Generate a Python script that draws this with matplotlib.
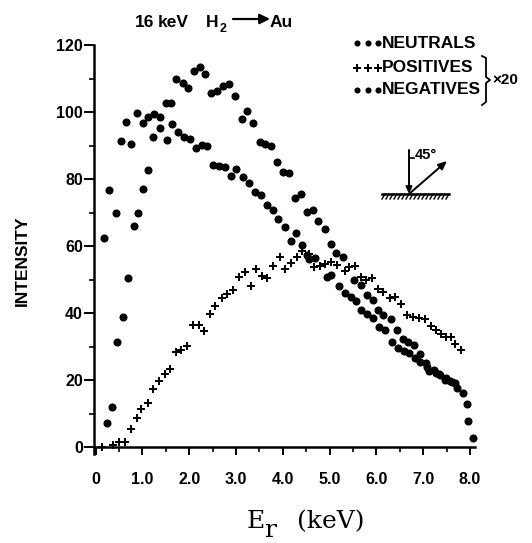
import matplotlib
matplotlib.use("Agg")
import matplotlib.pyplot as plt
from matplotlib.lines import Line2D
from matplotlib.ticker import MultipleLocator, FixedLocator, FixedFormatter

# ---- data: reflected H intensity vs. exit energy (16 keV H2 -> Au) ----
neutral_E = [0.18, 0.29, 0.43, 0.54, 0.65, 0.76, 0.89, 1.02, 1.13, 1.25, 1.38, 1.52,
             1.63, 1.76, 1.89, 2.02, 2.15, 2.27, 2.39, 2.51, 2.64, 2.76, 2.89, 3.01,
             3.14, 3.28, 3.41, 3.53, 3.66, 3.78, 3.90, 4.05, 4.17, 4.28, 4.42, 4.51,
             4.57, 4.69, 4.94, 5.04, 5.19, 5.33, 5.45, 5.56, 5.66, 5.79, 5.92, 6.06,
             6.18, 6.33, 6.47, 6.59, 6.70, 6.82, 6.93, 7.07, 7.13, 7.27, 7.34, 7.47,
             7.57, 7.68, 7.84, 7.95]
neutral_I = [62.5, 76.7, 69.8, 91.4, 96.9, 90.4, 99.8, 96.8, 98.4, 99.4, 98.4, 91.6,
             96.3, 94.1, 92.6, 92.0, 89.2, 90.1, 89.9, 84.2, 83.9, 83.7, 80.9, 82.9,
             80.7, 78.9, 76.2, 75.2, 72.2, 70.7, 68.0, 65.8, 61.6, 64.0, 60.3, 57.3,
             56.0, 56.3, 50.8, 51.3, 48.1, 46.1, 44.7, 43.7, 40.9, 39.7, 38.4, 35.7,
             34.9, 31.4, 29.5, 28.7, 28.0, 26.5, 25.5, 25.2, 22.8, 22.2, 21.8, 20.0,
             19.8, 19.0, 16.2, 7.8]

negative_E = [0.25, 0.35, 0.45, 0.59, 0.70, 0.81, 0.91, 1.02, 1.13, 1.23, 1.38, 1.50,
              1.61, 1.72, 1.86, 1.97, 2.10, 2.22, 2.34, 2.47, 2.60, 2.73, 2.85, 2.98,
              3.12, 3.24, 3.37, 3.51, 3.62, 3.75, 3.87, 4.01, 4.14, 4.27, 4.38, 4.52,
              4.64, 4.76, 4.90, 5.02, 5.14, 5.28, 5.52, 5.68, 5.79, 5.92, 6.04, 6.15,
              6.31, 6.43, 6.56, 6.68, 6.80, 6.93, 7.09, 7.23, 7.36, 7.49, 7.62, 7.72,
              7.94, 8.06]
negative_I = [7.1, 12.0, 31.4, 38.7, 50.4, 66.0, 69.8, 77.0, 82.7, 92.6, 95.1, 102.8,
              102.6, 109.9, 108.7, 107.3, 112.3, 113.5, 111.3, 105.8, 106.2, 107.9, 108.3, 104.8,
              97.8, 100.4, 96.8, 91.0, 90.4, 89.9, 85.2, 82.1, 81.9, 74.2, 75.5, 70.2,
              70.7, 67.6, 65.0, 60.6, 57.8, 56.6, 49.9, 48.4, 45.4, 43.9, 40.9, 39.4,
              38.1, 34.9, 32.1, 31.4, 30.4, 27.8, 24.0, 23.0, 21.5, 20.5, 19.5, 17.5,
              12.8, 2.6]

positive_E = [0.14, 0.38, 0.51, 0.63, 0.75, 0.88, 0.98, 1.11, 1.23, 1.35, 1.48, 1.60,
              1.72, 1.83, 1.96, 2.09, 2.20, 2.32, 2.44, 2.56, 2.69, 2.81, 2.93, 3.07,
              3.19, 3.31, 3.42, 3.55, 3.67, 3.80, 3.93, 4.05, 4.18, 4.30, 4.42, 4.55,
              4.67, 4.79, 4.90, 5.02, 5.15, 5.33, 5.42, 5.54, 5.66, 5.78, 5.90, 6.04,
              6.15, 6.28, 6.40, 6.52, 6.66, 6.78, 6.90, 7.04, 7.16, 7.27, 7.37, 7.49,
              7.59, 7.68, 7.80]
positive_I = [0.0, 0.5, 1.6, 1.6, 5.4, 8.6, 11.3, 13.2, 17.2, 19.8, 21.8, 23.3,
              28.3, 29.0, 30.2, 36.4, 36.4, 34.7, 39.7, 42.1, 44.4, 45.7, 46.9, 50.7,
              52.3, 48.1, 53.0, 51.0, 50.4, 54.0, 56.6, 53.0, 55.0, 56.6, 58.5, 57.5,
              53.8, 54.0, 54.6, 55.3, 54.3, 52.6, 53.6, 54.0, 50.8, 49.9, 50.4, 47.1,
              46.4, 44.4, 44.9, 42.7, 39.4, 38.7, 38.4, 38.1, 36.1, 34.9, 33.7, 32.9,
              32.7, 30.7, 29.0]

x_major = [0, 1, 2, 3, 4, 5, 6, 7, 8]
x_labels = ["0", "1.0", "2.0", "3.0", "4.0", "5.0", "6.0", "7.0", "8.0"]
y_major = [0, 20, 40, 60, 80, 100, 120]
y_labels = ["0", "20", "40", "60", "80", "100", "120"]

legend_labels = ["NEUTRALS", "POSITIVES", "NEGATIVES"]

# ---- figure ----
W, H = 532, 543
fig = plt.figure(figsize=(W / 100, H / 100), dpi=100)


def fx(x):
    return x / W


def fy(y):
    return 1 - y / H


SANS = ["Liberation Sans", "DejaVu Sans"]
x0_px, x1_px = 94.2, 474.7
y_top_px, y_bot_px = 45.0, 453.7
ax = fig.add_axes([fx(x0_px), fy(y_bot_px), (x1_px - x0_px) / W, (y_bot_px - y_top_px) / H])
ax.set_xlim(-0.03, 8.1)
ax.set_ylim(-2, 120)

for s in ("top", "right"):
    ax.spines[s].set_visible(False)
ax.spines["bottom"].set_position(("data", 0))
ax.spines["left"].set_linewidth(1.8)
ax.spines["bottom"].set_linewidth(1.8)

ax.xaxis.set_major_locator(FixedLocator(x_major))
ax.xaxis.set_major_formatter(FixedFormatter(x_labels))
ax.xaxis.set_minor_locator(MultipleLocator(0.5))
ax.yaxis.set_major_locator(FixedLocator(y_major))
ax.yaxis.set_major_formatter(FixedFormatter(y_labels))
ax.yaxis.set_minor_locator(MultipleLocator(10))

ax.tick_params(axis="x", which="major", direction="out", length=6, width=1.4, pad=12)
ax.tick_params(axis="x", which="minor", direction="out", length=3.5, width=1.2)
ax.tick_params(axis="y", which="major", direction="out", length=7, width=1.4, pad=1)
ax.tick_params(axis="y", which="minor", direction="out", length=3.5, width=1.2)
for lab in ax.get_xticklabels() + ax.get_yticklabels():
    lab.set_family(SANS)
    lab.set_fontweight("bold")
    lab.set_fontsize(11.5)

ax.plot(neutral_E, neutral_I, ls="none", marker="o", ms=4.8, color="k", clip_on=False)
ax.plot(negative_E, negative_I, ls="none", marker="o", ms=4.8, color="k", clip_on=False)
ax.plot(positive_E, positive_I, ls="none", marker="P", ms=5.6, color="k", mew=0, clip_on=False)

# ---- title ----
tkw = dict(family=SANS, fontweight="bold", fontsize=12.5, va="baseline")
fig.text(fx(135), fy(26.6), "16", **tkw)
fig.text(fx(158), fy(26.6), "keV", **tkw)
fig.text(fx(206), fy(26.6), "H", **tkw)
fig.text(fx(219.5), fy(32), "2", family=SANS, fontweight="bold", fontsize=9, va="baseline")
fig.text(fx(270), fy(26.6), "Au", **tkw)
fig.add_artist(matplotlib.patches.FancyArrowPatch(
    (fx(233), fy(19)), (fx(270), fy(19)), transform=fig.transFigure,
    arrowstyle="-|>,head_length=6,head_width=3", lw=1.6, color="k", shrinkA=0, shrinkB=0))

# ---- axis labels ----
fig.text(fx(22), fy(261), "INTENSITY", rotation=90, ha="center", va="center",
         family=SANS, fontweight="bold", fontsize=12.5)
fig.text(fx(247), fy(528), "E", family="DejaVu Serif", fontsize=18, va="baseline")
fig.text(fx(264), fy(537), "r", family="DejaVu Serif", fontsize=18, va="baseline")
fig.text(fx(297), fy(528), "(keV)", family="DejaVu Serif", fontsize=18, va="baseline")

# ---- legend ----
rows_y = [43, 68, 90]
markers = ["o", "P", "o"]
sizes = [4.4, 5.2, 4.4]
for yy, mk, msz, lab in zip(rows_y, markers, sizes, legend_labels):
    fig.add_artist(Line2D([fx(357), fx(368), fx(378)], [fy(yy)] * 3, transform=fig.transFigure,
                          ls="none", marker=mk, ms=msz, color="k", mew=0))
    fig.text(fx(382), fy(yy), lab, family=SANS, fontweight="bold", fontsize=12.5, va="center")

bx = [482, 486, 486, 490, 486, 486, 482]
by = [56, 58, 77, 80, 83, 102, 105]
fig.add_artist(Line2D([fx(v) for v in bx], [fy(v) for v in by], transform=fig.transFigure,
                      color="k", lw=1.3))
fig.text(fx(492), fy(80), "\u00d720", family=SANS, fontweight="bold", fontsize=11, va="center")

# ---- incidence geometry sketch ----
def seg(xa, ya, xb, yb, lw=1.4):
    fig.add_artist(Line2D([fx(xa), fx(xb)], [fy(ya), fy(yb)], transform=fig.transFigure,
                          color="k", lw=lw))


fig.add_artist(matplotlib.patches.FancyArrowPatch(
    (fx(409), fy(150)), (fx(409), fy(194)), transform=fig.transFigure,
    arrowstyle="-|>,head_length=4,head_width=1.8", lw=1.4, color="k", shrinkA=0, shrinkB=0))
fig.add_artist(matplotlib.patches.FancyArrowPatch(
    (fx(409), fy(194)), (fx(447), fy(161)), transform=fig.transFigure,
    arrowstyle="-|>,head_length=5,head_width=2.2", lw=1.4, color="k", shrinkA=0, shrinkB=0))
seg(409, 158, 414, 158, lw=1.2)
fig.text(fx(415), fy(155), "45\u00b0", family=SANS, fontweight="bold", fontsize=10.5, va="center")
seg(382, 194, 449, 194, lw=1.8)
for hx in range(385, 450, 4):
    seg(hx, 194, hx - 3, 199, lw=1.0)

fig.savefig("out.png", dpi=100)
